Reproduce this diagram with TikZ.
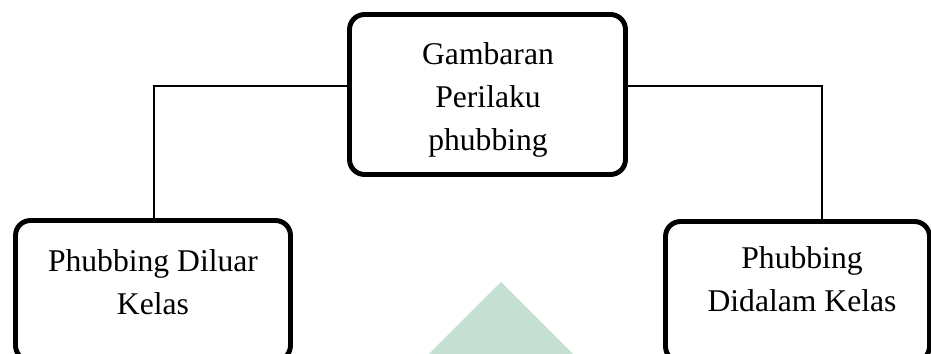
\documentclass[tikz,border=0pt]{standalone}
\usepackage{fontspec}
\setmainfont{Liberation Serif}
\usepackage{tikz}
\definecolor{hijaulogo}{HTML}{C5E0D2}
\tikzset{kotak/.style={draw,line width=2.8pt,rounded corners=8.5pt,inner sep=0pt},
    tulisan/.style={align=center,font=\fontsize{18}{24.4}\selectfont},
    garis/.style={draw,line width=0.85pt}}

\begin{document}
\begin{tikzpicture}[x=0.02cm,y=-0.02cm]
            \useasboundingbox (0,0) rectangle (931,354);
            \fill[hijaulogo] (501,282) -- (420,363) -- (582,363) -- cycle;
            \node[kotak,minimum width=5.52cm,minimum height=3.2cm] (gambaran) at (487.5,94.5) {};
            \node[kotak,minimum width=5.5cm,minimum height=2.8cm] (luar) at (153,290.5) {};
            \node[kotak,minimum width=5.28cm,minimum height=2.8cm] (dalam) at (797.5,291.5) {};
            \node[tulisan] (teksgambaran) at (488,100) {Gambaran\\Perilaku\\phubbing};
            \node[tulisan] (teksluar) at (153,282) {Phubbing Diluar\\Kelas};
            \node[tulisan] (teksdalam) at (802,279) {Phubbing\\Didalam Kelas};
            \coordinate (sikukiri) at (154,86);
            \coordinate (sikukanan) at (822,86);
            \draw[garis] (gambaran.west |- sikukiri) -- (sikukiri) -- (sikukiri |- luar.north);
            \draw[garis] (gambaran.east |- sikukanan) -- (sikukanan) -- (sikukanan |- dalam.north);
        \end{tikzpicture}
\end{document}
